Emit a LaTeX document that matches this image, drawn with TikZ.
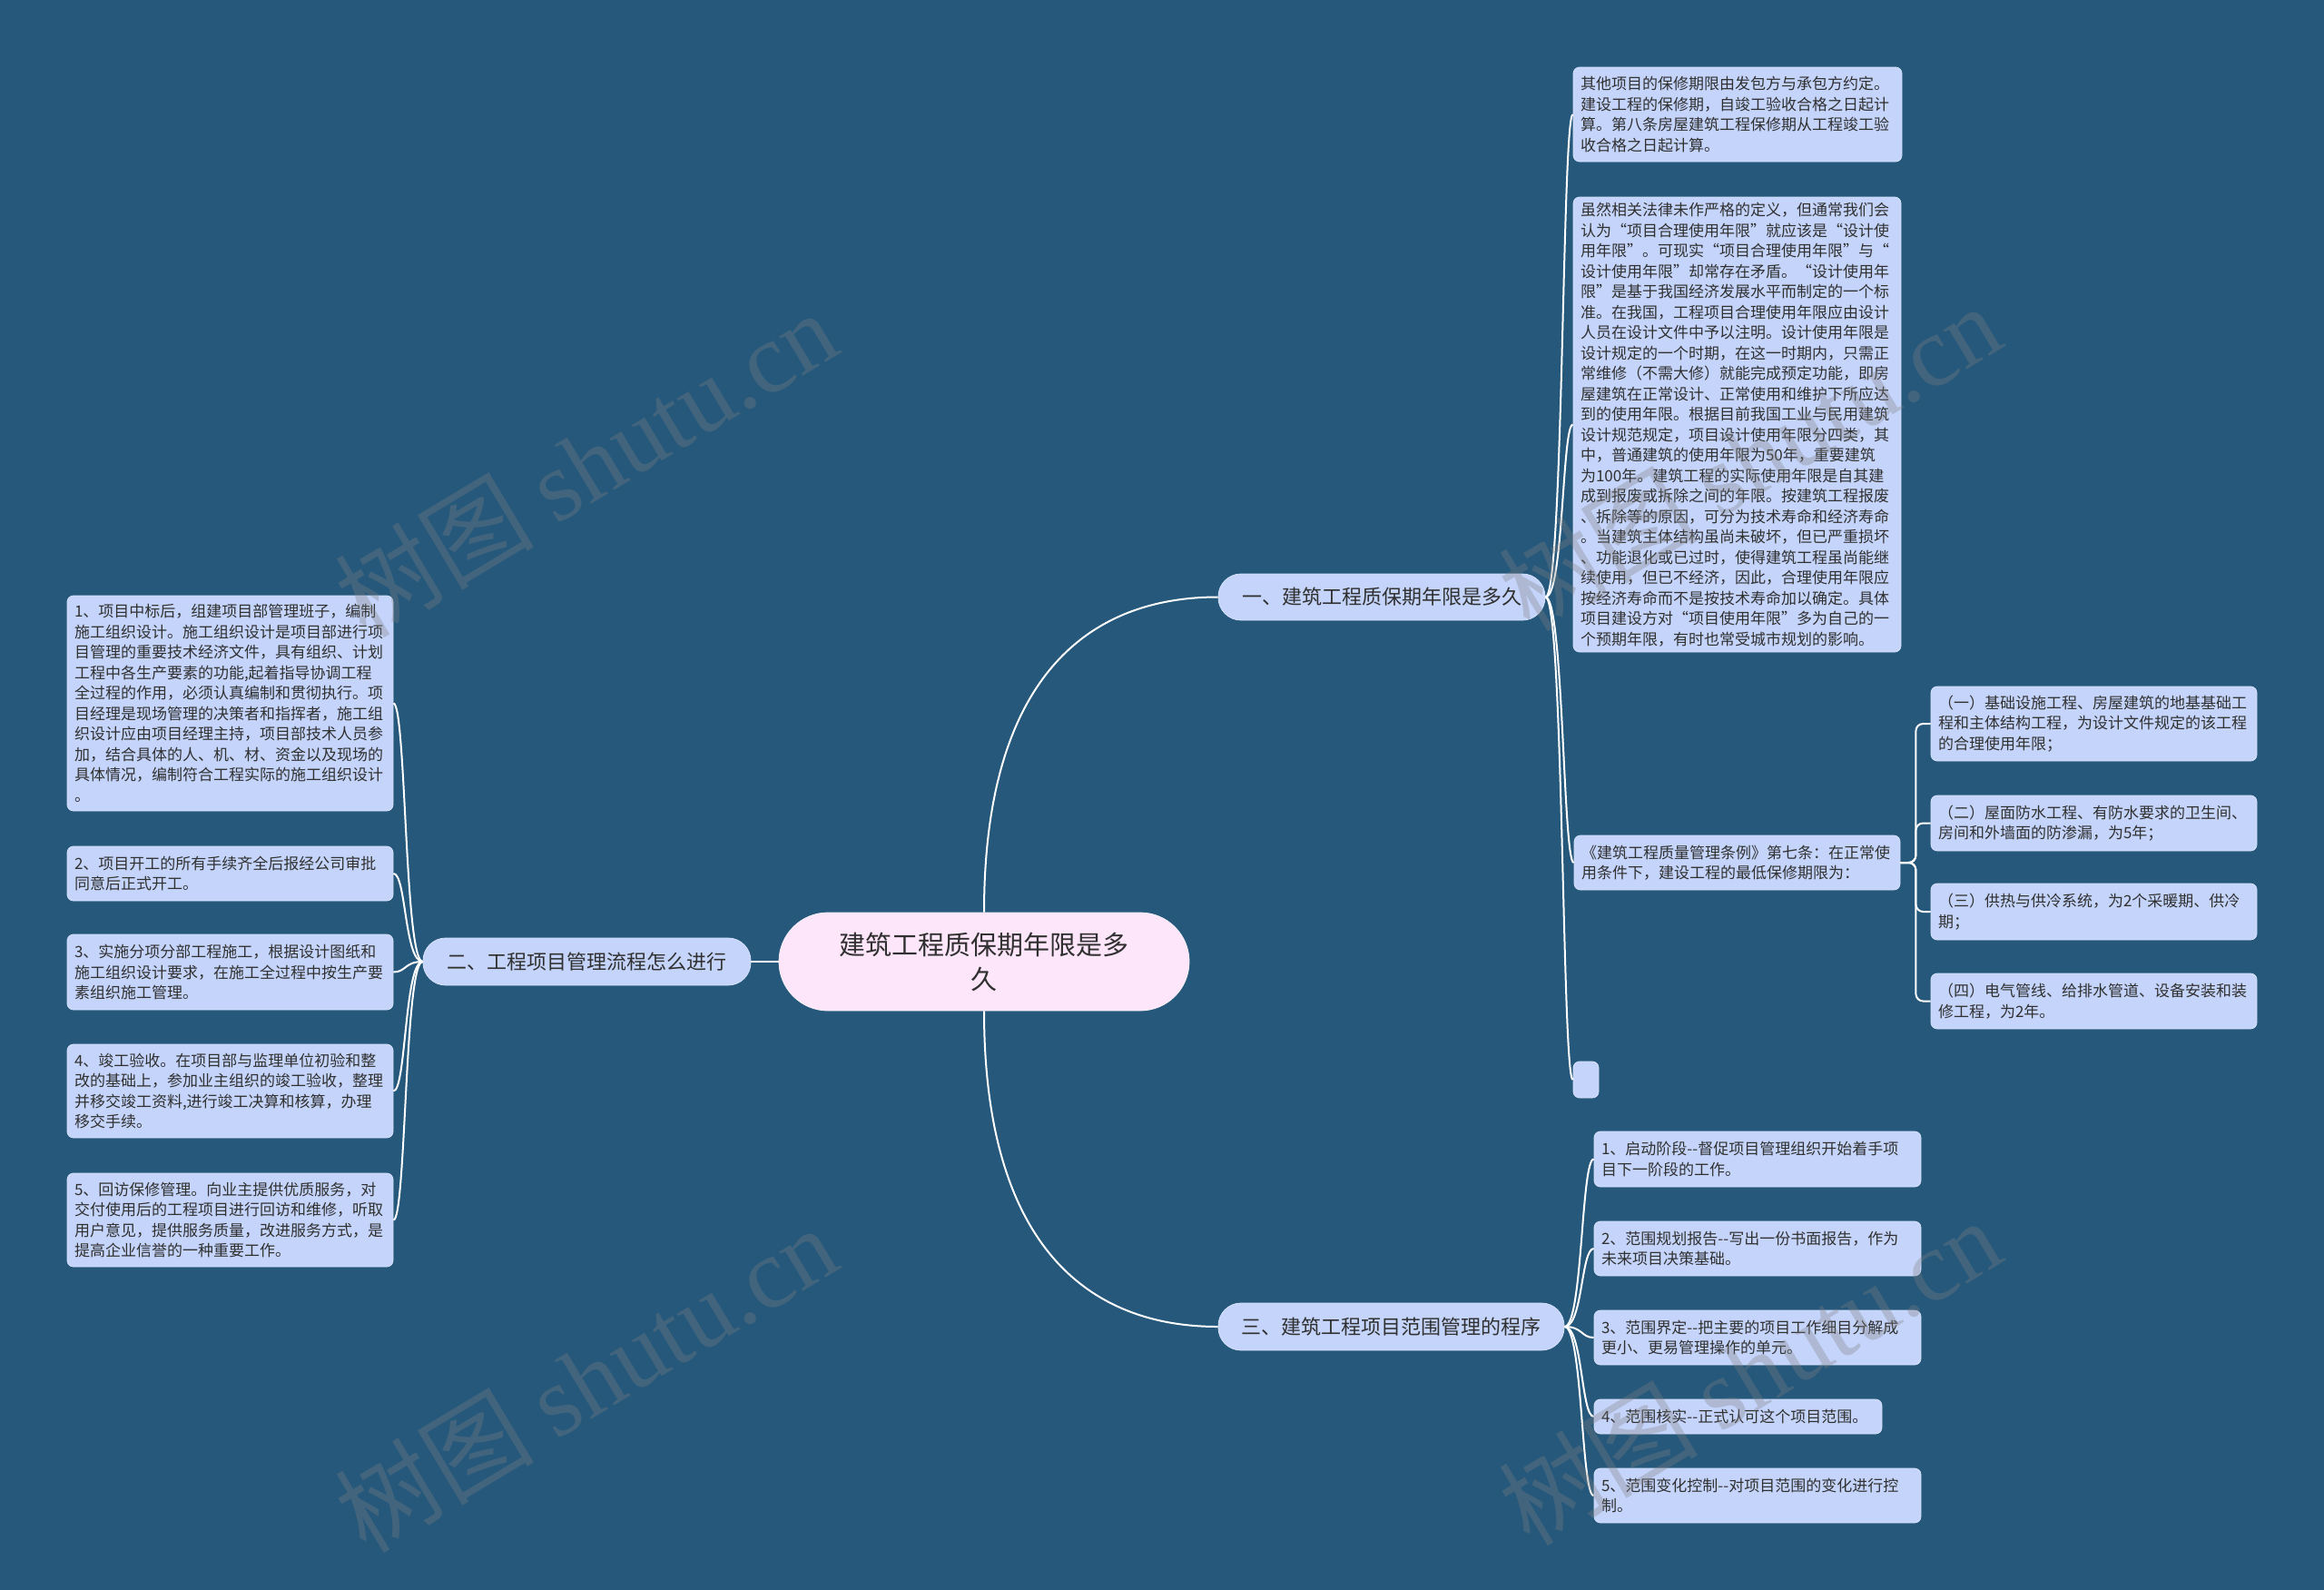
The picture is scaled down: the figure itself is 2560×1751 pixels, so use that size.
\documentclass[tikz,border=0pt]{standalone}
\usepackage{fontspec}
\setmainfont{Noto Sans CJK SC}
\newfontfamily\wmfont{Liberation Serif}
\definecolor{bg}{RGB}{37,88,123}
\definecolor{leaffill}{RGB}{196,212,250}
\definecolor{leafedge}{RGB}{214,226,252}
\definecolor{rootfill}{RGB}{253,229,250}
\definecolor{rootedge}{RGB}{250,240,250}
\definecolor{txt}{RGB}{48,48,48}
\begin{document}
\begin{tikzpicture}[x=1pt,y=-1pt,
  leaf/.style={draw=leafedge, line width=0.8pt, fill=leaffill, rounded corners=7pt, text=txt,
    font=\fontsize{17pt}{22.5pt}\selectfont, align=left, inner xsep=8pt, inner ysep=0pt, anchor=center},
  branch/.style={draw=leafedge, line width=0.8pt, fill=leaffill, rounded corners=25pt, text=txt,
    font=\fontsize{22pt}{28pt}\selectfont, inner sep=0pt, anchor=center},
  rootnode/.style={draw=rootedge, line width=0.8pt, fill=rootfill, rounded corners=54pt, text=txt,
    font=\fontsize{29pt}{38pt}\selectfont, align=center, inner sep=0pt, anchor=center},
  link/.style={draw=white, line width=2pt},
  wm/.style={rotate=31, text=gray, text opacity=0.32, font=\fontsize{110pt}{110pt}\selectfont, inner sep=0pt}
]
\fill[bg] (0,0) rectangle (2560,1751);
\useasboundingbox (0,0) rectangle (2560,1751);

% root and branches
\node[rootnode, minimum width=452pt, minimum height=108pt] (root) at (1084,1059) {建筑工程质保期年限是多\\久};
\node[branch, minimum width=360pt, minimum height=51pt] (b1) at (1522,657.5) {一、建筑工程质保期年限是多久};
\node[branch, minimum width=361pt, minimum height=52pt] (b2) at (646.5,1059) {二、工程项目管理流程怎么进行};
\node[branch, minimum width=381pt, minimum height=52pt] (b3) at (1532.5,1461) {三、建筑工程项目范围管理的程序};

% branch 1 children
\node[leaf, text width=346pt, minimum height=104pt] (a1) at (1914,126) {其他项目的保修期限由发包方与承包方约定。\\建设工程的保修期，自竣工验收合格之日起计\\算。第八条房屋建筑工程保修期从工程竣工验\\收合格之日起计算。};
\node[leaf, text width=345pt, minimum height=501pt] (a2) at (1913.5,467.5) {虽然相关法律未作严格的定义，但通常我们会\\认为“项目合理使用年限”就应该是“设计使\\用年限”。可现实“项目合理使用年限”与“\\设计使用年限”却常存在矛盾。“设计使用年\\限”是基于我国经济发展水平而制定的一个标\\准。在我国，工程项目合理使用年限应由设计\\人员在设计文件中予以注明。设计使用年限是\\设计规定的一个时期，在这一时期内，只需正\\常维修（不需大修）就能完成预定功能，即房\\屋建筑在正常设计、正常使用和维护下所应达\\到的使用年限。根据目前我国工业与民用建筑\\设计规范规定，项目设计使用年限分四类，其\\中，普通建筑的使用年限为50年，重要建筑\\为100年。建筑工程的实际使用年限是自其建\\成到报废或拆除之间的年限。按建筑工程报废\\、拆除等的原因，可分为技术寿命和经济寿命\\。当建筑主体结构虽尚未破坏，但已严重损坏\\、功能退化或已过时，使得建筑工程虽尚能继\\续使用，但已不经济，因此，合理使用年限应\\按经济寿命而不是按技术寿命加以确定。具体\\项目建设方对“项目使用年限”多为自己的一\\个预期年限，有时也常受城市规划的影响。};
\node[leaf, text width=343pt, minimum height=60pt] (a3) at (1913.5,950) {《建筑工程质量管理条例》第七条：在正常使\\用条件下，建设工程的最低保修期限为：};
\node[leaf, text width=12pt, minimum height=40pt] (a4) at (1747,1189) {};

% children of a3
\node[leaf, text width=343pt, minimum height=82pt] (f1) at (2306.5,797) {（一）基础设施工程、房屋建筑的地基基础工\\程和主体结构工程，为设计文件规定的该工程\\的合理使用年限；};
\node[leaf, text width=343pt, minimum height=61pt] (f2) at (2306.5,906.5) {（二）屋面防水工程、有防水要求的卫生间、\\房间和外墙面的防渗漏，为5年；};
\node[leaf, text width=343pt, minimum height=62pt] (f3) at (2306.5,1004) {（三）供热与供冷系统，为2个采暖期、供冷\\期；};
\node[leaf, text width=343pt, minimum height=61pt] (f4) at (2306.5,1102.5) {（四）电气管线、给排水管道、设备安装和装\\修工程，为2年。};

% branch 3 children
\node[leaf, text width=344pt, minimum height=61pt] (d1) at (1936,1276.5) {1、启动阶段-{}-督促项目管理组织开始着手项\\目下一阶段的工作。};
\node[leaf, text width=344pt, minimum height=60pt] (d2) at (1936,1375) {2、范围规划报告-{}-写出一份书面报告，作为\\未来项目决策基础。};
\node[leaf, text width=344pt, minimum height=60pt] (d3) at (1936,1473) {3、范围界定-{}-把主要的项目工作细目分解成\\更小、更易管理操作的单元。};
\node[leaf, text width=301pt, minimum height=38pt] (d4) at (1914.5,1560) {4、范围核实-{}-正式认可这个项目范围。};
\node[leaf, text width=344pt, minimum height=60pt] (d5) at (1936,1647) {5、范围变化控制-{}-对项目范围的变化进行控\\制。};

% branch 2 children
\node[leaf, text width=343pt, minimum height=237pt] (e1) at (253.5,774.5) {1、项目中标后，组建项目部管理班子，编制\\施工组织设计。施工组织设计是项目部进行项\\目管理的重要技术经济文件，具有组织、计划\\工程中各生产要素的功能,起着指导协调工程\\全过程的作用，必须认真编制和贯彻执行。项\\目经理是现场管理的决策者和指挥者，施工组\\织设计应由项目经理主持，项目部技术人员参\\加，结合具体的人、机、材、资金以及现场的\\具体情况，编制符合工程实际的施工组织设计\\。};
\node[leaf, text width=343pt, minimum height=60pt] (e2) at (253.5,962) {2、项目开工的所有手续齐全后报经公司审批\\同意后正式开工。};
\node[leaf, text width=343pt, minimum height=83pt] (e3) at (253.5,1070.5) {3、实施分项分部工程施工，根据设计图纸和\\施工组织设计要求，在施工全过程中按生产要\\素组织施工管理。};
\node[leaf, text width=343pt, minimum height=103pt] (e4) at (253.5,1201.5) {4、竣工验收。在项目部与监理单位初验和整\\改的基础上，参加业主组织的竣工验收，整理\\并移交竣工资料,进行竣工决算和核算，办理\\移交手续。};
\node[leaf, text width=343pt, minimum height=103pt] (e5) at (253.5,1343.5) {5、回访保修管理。向业主提供优质服务，对\\交付使用后的工程项目进行回访和维修，听取\\用户意见，提供服务质量，改进服务方式，是\\提高企业信誉的一种重要工作。};

% connectors
\draw[link] (root.north) .. controls +(0,-250) and +(-150,0) .. (b1.west);
\draw[link] (root.south) .. controls +(0,250) and +(-150,0) .. (b3.west);
\draw[link] (root.west) -- (b2.east);
\foreach \n in {a1,a2,a3,a4}
  \draw[link] (b1.east) .. controls +(20,0) and +(-12,0) .. (\n.west);
\foreach \n in {f1,f2,f3,f4}
  \draw[link, rounded corners=8pt] (a3.east) -- ++(17,0) |- (\n.west);
\foreach \n in {d1,d2,d3,d4,d5}
  \draw[link] (b3.east) .. controls +(20,0) and +(-14,0) .. (\n.west);
\foreach \n in {e1,e2,e3,e4,e5}
  \draw[link] (b2.west) .. controls +(-20,0) and +(14,0) .. (\n.east);

% watermarks
\node[wm] (w1) at (645,510) {树图 {\wmfont shutu.cn}};
\node[wm] (w2) at (1927,503) {树图 {\wmfont shutu.cn}};
\node[wm] (w3) at (645,1518) {树图 {\wmfont shutu.cn}};
\node[wm] (w4) at (1927,1510) {树图 {\wmfont shutu.cn}};
\end{tikzpicture}
\end{document}
